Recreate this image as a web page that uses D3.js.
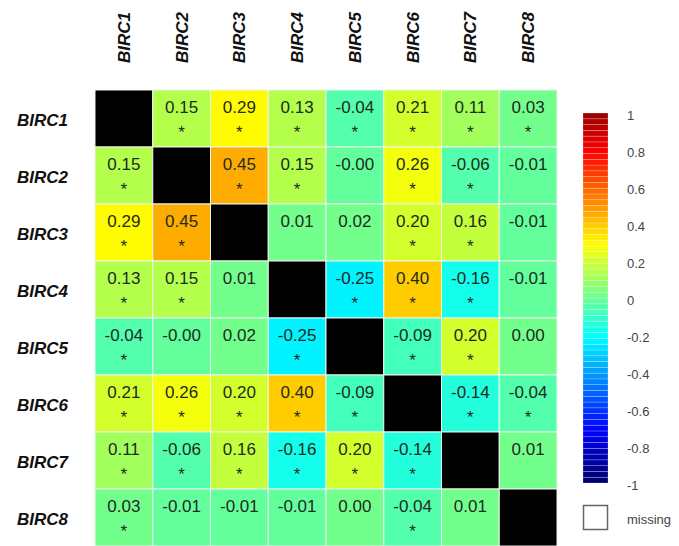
<!DOCTYPE html>
<html>
<head>
<meta charset="utf-8">
<script src="https://cdn.jsdelivr.net/npm/d3@7"></script>
<style>
  body { margin: 0; background: #fff; }
  svg { display: block; font-family: "Liberation Sans", Arial, sans-serif; }
</style>
</head>
<body>
<div id="chart"></div>
<script>
// gene names (rows and columns)
var genes = ["BIRC1", "BIRC2", "BIRC3", "BIRC4", "BIRC5", "BIRC6", "BIRC7", "BIRC8"];

// correlation values, null on the diagonal
var corr = [
  [null, 0.15, 0.29, 0.13, -0.04, 0.21, 0.11, 0.03],
  [0.15, null, 0.45, 0.15, -0.004, 0.26, -0.06, -0.01],
  [0.29, 0.45, null, 0.01, 0.02, 0.20, 0.16, -0.01],
  [0.13, 0.15, 0.01, null, -0.25, 0.40, -0.16, -0.01],
  [-0.04, -0.004, 0.02, -0.25, null, -0.09, 0.20, 0.00],
  [0.21, 0.26, 0.20, 0.40, -0.09, null, -0.14, -0.04],
  [0.11, -0.06, 0.16, -0.16, 0.20, -0.14, null, 0.01],
  [0.03, -0.01, -0.01, -0.01, 0.00, -0.04, 0.01, null]
];

// significance stars (1 = "*")
var signif = [
  [0, 1, 1, 1, 1, 1, 1, 1],
  [1, 0, 1, 1, 0, 1, 1, 0],
  [1, 1, 0, 0, 0, 1, 1, 0],
  [1, 1, 0, 0, 1, 1, 1, 0],
  [1, 0, 0, 1, 0, 1, 1, 0],
  [1, 1, 1, 1, 1, 0, 1, 1],
  [1, 1, 1, 1, 1, 1, 0, 0],
  [1, 0, 0, 0, 0, 1, 0, 0]
];

// colour bar tick labels
var legendTicks = [1, 0.8, 0.6, 0.4, 0.2, 0, -0.2, -0.4, -0.6, -0.8, -1];
var legendTickLabels = ["1", "0.8", "0.6", "0.4", "0.2", "0", "-0.2", "-0.4", "-0.6", "-0.8", "-1"];

var width = 679, height = 546;
var nLevels = 64;

// jet colormap (slightly shifted towards blue, as in the picture)
function jet(t) {
  function c(v) { return Math.max(0, Math.min(1, v)); }
  var r = c(1.5 - Math.abs(4 * t - 3));
  var g = c(1.5 - Math.abs(4 * t - 2));
  var b = c(1.5 - Math.abs(4 * t - 1));
  return d3.rgb(r * 255, g * 255, b * 255).formatHex();
}
var jetColors = d3.range(nLevels).map(function(i) { return jet((i + 0.5) / nLevels - 0.02); });

var color = d3.scaleQuantize()
  .domain([-1, 1])
  .range(jetColors);

var svg = d3.select("#chart").append("svg")
  .attr("width", width)
  .attr("height", height);

var x = d3.scaleBand().domain(genes).range([95, 557]);
var y = d3.scaleBand().domain(genes).range([90, 546]);

// flatten to cells
var cells = [];
corr.forEach(function(row, i) {
  row.forEach(function(v, j) {
    cells.push({ row: genes[i], col: genes[j], value: v, star: signif[i][j] });
  });
});

var cell = svg.append("g").selectAll("g")
  .data(cells)
  .enter().append("g");

cell.append("rect")
  .attr("x", function(d) { return x(d.col); })
  .attr("y", function(d) { return y(d.row); })
  .attr("width", x.bandwidth())
  .attr("height", y.bandwidth())
  .attr("fill", function(d) { return d.value === null ? "#000" : color(d.value); })
  .attr("stroke", "#eef4ee")
  .attr("stroke-width", 1);

cell.filter(function(d) { return d.value !== null; })
  .append("text")
  .attr("x", function(d) { return x(d.col) + x.bandwidth() / 2; })
  .attr("y", function(d) { return y(d.row) + 23; })
  .attr("text-anchor", "middle")
  .attr("font-size", 17)
  .attr("fill", "#1e2a22")
  .text(function(d) { return d.value.toFixed(2); });

cell.filter(function(d) { return d.value !== null && d.star; })
  .append("text")
  .attr("x", function(d) { return x(d.col) + x.bandwidth() / 2; })
  .attr("y", function(d) { return y(d.row) + 48; })
  .attr("text-anchor", "middle")
  .attr("font-size", 17)
  .attr("fill", "#1e2a22")
  .text("*");

// column labels (rotated)
svg.append("g").selectAll("text")
  .data(genes)
  .enter().append("text")
  .attr("transform", function(d) {
    return "translate(" + (x(d) + x.bandwidth() / 2) + ",63) rotate(-90)";
  })
  .attr("dy", "0.35em")
  .attr("font-size", 17)
  .attr("font-weight", "bold")
  .attr("font-style", "italic")
  .attr("fill", "#111")
  .text(function(d) { return d; });

// row labels
svg.append("g").selectAll("text")
  .data(genes)
  .enter().append("text")
  .attr("x", 17)
  .attr("y", function(d) { return y(d) + y.bandwidth() / 2 + 2; })
  .attr("dy", "0.35em")
  .attr("font-size", 17)
  .attr("font-weight", "bold")
  .attr("font-style", "italic")
  .attr("fill", "#111")
  .text(function(d) { return d; });

// colour bar
var barY = d3.scaleLinear().domain([1, -1]).range([113, 483]);
var bandH = (barY(-1) - barY(1)) / nLevels;
svg.append("g").selectAll("rect")
  .data(jetColors)
  .enter().append("rect")
  .attr("x", 583)
  .attr("y", function(d, i) { return barY(1) + (nLevels - 1 - i) * bandH; })
  .attr("width", 25)
  .attr("height", bandH)
  .attr("fill", function(d) { return d; })
  .attr("stroke", "rgba(255,255,255,0.35)")
  .attr("stroke-width", 0.6);

svg.append("g").selectAll("text")
  .data(legendTicks)
  .enter().append("text")
  .attr("x", 627)
  .attr("y", function(d) { return barY(d) + 2; })
  .attr("dy", "0.35em")
  .attr("font-size", 13)
  .attr("fill", "#444")
  .text(function(d, i) { return legendTickLabels[i]; });

// missing box
svg.append("rect")
  .attr("x", 583.5)
  .attr("y", 505.5)
  .attr("width", 24)
  .attr("height", 24)
  .attr("fill", "#fff")
  .attr("stroke", "#666")
  .attr("stroke-width", 1.5);

svg.append("text")
  .attr("x", 627)
  .attr("y", 519)
  .attr("dy", "0.35em")
  .attr("font-size", 13)
  .attr("fill", "#444")
  .text("missing");
</script>
</body>
</html>
